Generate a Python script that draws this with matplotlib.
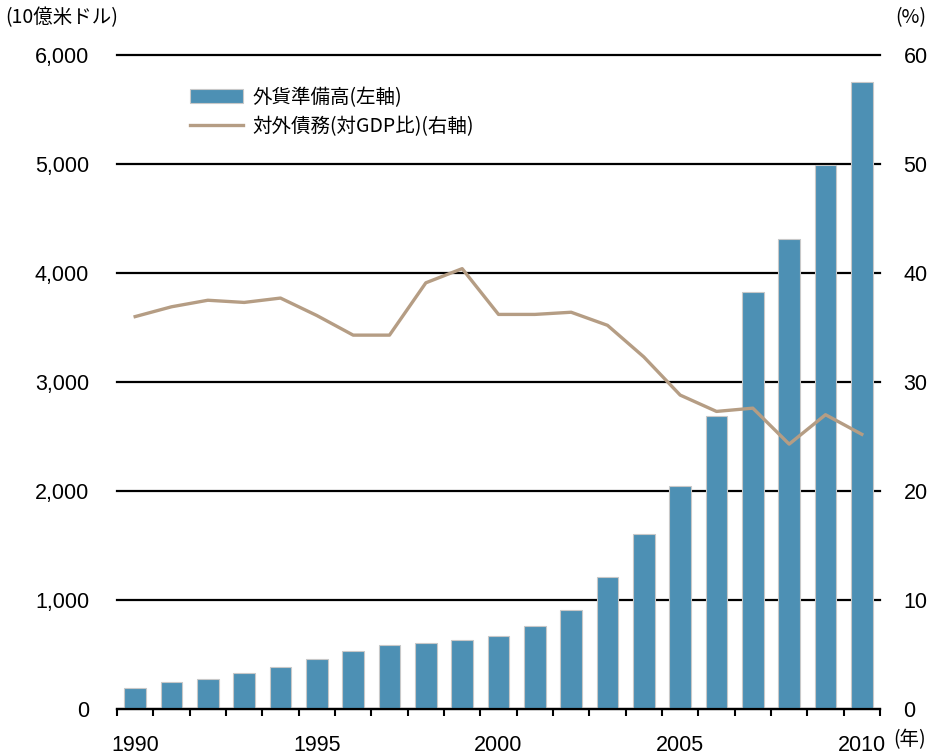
import matplotlib
matplotlib.use("Agg")
import matplotlib.pyplot as plt
import numpy as np

years = list(range(1990, 2011))
reserves = [195, 250, 272, 327, 382, 459, 535, 590, 608, 630, 667, 761, 911,
            1211, 1606, 2046, 2690, 3823, 4312, 4991, 5752]
debt_ratio = [36.0, 36.9, 37.5, 37.3, 37.7, 36.1, 34.3, 34.3, 39.1, 40.4, 36.2,
              36.2, 36.4, 35.2, 32.3, 28.8, 27.3, 27.6, 24.3, 27.0, 25.2]
left_ticks = [0, 1000, 2000, 3000, 4000, 5000, 6000]
left_labels = ["0", "1,000", "2,000", "3,000", "4,000", "5,000", "6,000"]
right_ticks = [0, 10, 20, 30, 40, 50, 60]
x_label_years = [1990, 1995, 2000, 2005, 2010]
legend_labels = ["外貨準備高(左軸)", "対外債務(対GDP比)(右軸)"]

CJK = ["Noto Sans CJK JP", "DejaVu Sans"]
NUM = ["Liberation Sans", "DejaVu Sans"]

bar_color = "#4d90b4"
line_color = "#b59d84"

fig = plt.figure(figsize=(9.43, 7.55), dpi=100)
ax = fig.add_axes([117/943, 1 - 709/755, (880 - 117)/943, (709 - 55)/755])

bars = ax.bar(years, reserves, width=0.6, color=bar_color, edgecolor="#c8c8c8",
              linewidth=0.8, zorder=2)
ax.set_xlim(1989.5, 2010.5)
ax.set_ylim(0, 6000)
ax.set_yticks(left_ticks)
ax.set_yticklabels(left_labels, fontfamily=NUM, fontsize=15.5)
ax.tick_params(axis="y", length=0, pad=20)
ax.yaxis.grid(True, color="black", linewidth=1.6, zorder=0)
for gl in ax.get_ygridlines():
    gl.set_clip_on(False)
ax.set_axisbelow(True)
for s in ["top", "left", "right"]:
    ax.spines[s].set_visible(False)
ax.spines["bottom"].set_linewidth(1.6)
ax.spines["bottom"].set_zorder(3)

ax.set_xticks(x_label_years)
ax.set_xticklabels([str(y) for y in x_label_years], fontfamily=NUM, fontsize=15.5)
ax.set_xticks(np.arange(1989.5, 2011, 1.0), minor=True)
ax.tick_params(axis="x", which="major", length=0, pad=19)
ax.tick_params(axis="x", which="minor", length=5, width=1.5, direction="out")

ax2 = ax.twinx()
ax2.plot(years, debt_ratio, color=line_color, linewidth=2.4, zorder=3)
ax2.set_ylim(0, 60)
ax2.set_yticks(right_ticks)
ax2.set_yticklabels([str(t) for t in right_ticks], fontfamily=NUM, fontsize=15.5)
ax2.tick_params(axis="y", length=0, pad=17)
for s in ["top", "left", "right", "bottom"]:
    ax2.spines[s].set_visible(False)

line_handle = plt.Line2D([], [], color=line_color, linewidth=2.4)
leg = ax2.legend([bars, line_handle], legend_labels,
                 loc="upper left", bbox_to_anchor=(190/943, 1 - 87/755),
                 bbox_transform=fig.transFigure, frameon=False,
                 borderpad=0, borderaxespad=0, handlelength=2.7,
                 handleheight=0.7, handletextpad=0.5, labelspacing=0.4,
                 prop={"family": CJK, "size": 14})

fig.text(5/943, 1 - 18/755, "(10億米ドル)", fontfamily=CJK, fontsize=14,
         ha="left", va="center")
fig.text(895/943, 1 - 18/755, "(%)", fontfamily=CJK, fontsize=14,
         ha="left", va="center")
fig.text(893/943, 1 - 740/755, "(年)", fontfamily=CJK, fontsize=14,
         ha="left", va="center")

fig.savefig("out.png", dpi=100)
